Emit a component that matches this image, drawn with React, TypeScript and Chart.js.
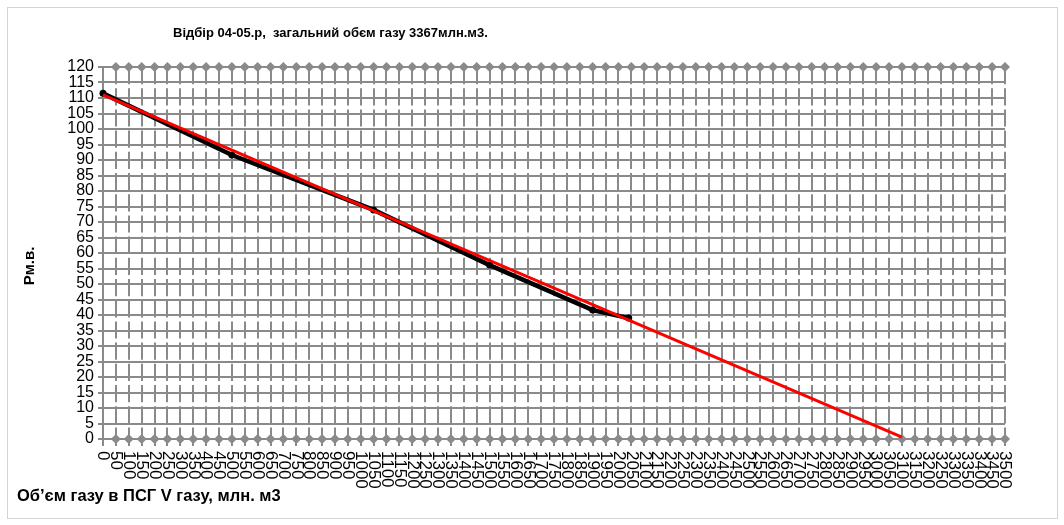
import { useEffect, useRef } from 'react';
import { Chart, registerables } from 'chart.js';

Chart.register(...registerables);

const chartTitle = 'Відбір 04-05.р,  загальний обєм газу 3367млн.м3.';
const xAxisTitle = 'Об’єм газу в ПСГ V газу, млн. м3';
const yAxisTitle = 'Рм.в.';

// Volume axis labels, млн. м3
const volumeTicks = [
  0, 50, 100, 150, 200, 250, 300, 350, 400, 450, 500, 550, 600, 650, 700, 750,
  800, 850, 900, 950, 1000, 1050, 1100, 1150, 1200, 1250, 1300, 1350, 1400,
  1450, 1500, 1550, 1600, 1650, 1700, 1750, 1800, 1850, 1900, 1950, 2000, 2050,
  2100, 2150, 2200, 2250, 2300, 2350, 2400, 2450, 2500, 2550, 2600, 2650, 2700,
  2750, 2800, 2850, 2900, 2950, 3000, 3050, 3100, 3150, 3200, 3250, 3300, 3350,
  3400, 3450, 3500,
];

// Measured withdrawal curve
const measuredVolumes = [0, 500, 1050, 1500, 1900, 2040];
const measuredPressures = [111.5, 91.6, 73.9, 56.1, 41.6, 39.0];

// Linear trend extended to depletion
const trendVolumes = [0, 3100];
const trendPressures = [111.0, 0.6];

// Gray marker rows along the top and bottom of the grid
const guideVolumes = volumeTicks.slice(1);
const upperGuideLevel = 120;
const lowerGuideLevel = 0;

const GRID = '#8a8a8a';
const FONT = '"Liberation Sans", Arial, sans-serif';

const textPlugin = {
  id: 'chartTexts',
  afterDraw(chart: any) {
    const { ctx } = chart;
    const xs = chart.scales.x;
    ctx.save();
    ctx.fillStyle = '#000';

    // vertical volume labels reading downwards
    ctx.font = `17px ${FONT}`;
    ctx.textAlign = 'left';
    ctx.textBaseline = 'middle';
    for (const v of volumeTicks) {
      const px = xs.getPixelForValue(v);
      ctx.save();
      ctx.translate(px, xs.top + 12);
      ctx.rotate(Math.PI / 2);
      ctx.fillText(String(v), 0, 0);
      ctx.restore();
    }

    // chart heading
    ctx.font = `bold 13px ${FONT}`;
    ctx.textBaseline = 'alphabetic';
    ctx.fillText(chartTitle, 165, 29);

    // x axis caption
    ctx.font = `bold 16.5px ${FONT}`;
    ctx.textBaseline = 'middle';
    ctx.fillText(xAxisTitle, 9, 488);

    // y axis caption
    ctx.save();
    ctx.translate(22, 258);
    ctx.rotate(-Math.PI / 2);
    ctx.textAlign = 'center';
    ctx.font = `bold 15px ${FONT}`;
    ctx.fillText(yAxisTitle, 0, 0);
    ctx.restore();

    ctx.restore();
  },
};

export default function App() {
  const canvasRef = useRef<HTMLCanvasElement | null>(null);

  useEffect(() => {
    const canvas = canvasRef.current;
    if (!canvas) return;

    const guideStyle = {
      showLine: true,
      clip: false,
      borderColor: GRID,
      borderWidth: 2,
      backgroundColor: GRID,
      pointBackgroundColor: GRID,
      pointBorderColor: GRID,
      pointStyle: 'rectRot',
      pointRadius: 5,
      pointBorderWidth: 0,
    };

    const chart = new Chart(canvas, {
      type: 'scatter',
      data: {
        datasets: [
          {
            label: 'trend',
            data: trendVolumes.map((x, i) => ({ x, y: trendPressures[i] })),
            showLine: true,
            clip: false,
            borderColor: '#ff0000',
            borderWidth: 3,
            pointRadius: 0,
          },
          {
            label: 'measured',
            data: measuredVolumes.map((x, i) => ({ x, y: measuredPressures[i] })),
            showLine: true,
            clip: false,
            borderColor: '#000000',
            borderWidth: 4.5,
            backgroundColor: '#000000',
            pointBackgroundColor: '#000000',
            pointBorderColor: '#000000',
            pointRadius: 3.5,
            pointBorderWidth: 0,
          },
          {
            label: 'upper',
            data: guideVolumes.map((x) => ({ x, y: upperGuideLevel })),
            ...guideStyle,
          },
          {
            label: 'lower',
            data: guideVolumes.map((x) => ({ x, y: lowerGuideLevel })),
            ...guideStyle,
          },
        ] as any,
      },
      options: {
        animation: false,
        responsive: false,
        events: [],
        layout: { padding: { top: 59, right: 52, left: 0, bottom: 0 } },
        plugins: {
          legend: { display: false },
          title: { display: false },
          tooltip: { enabled: false },
        },
        scales: {
          x: {
            type: 'linear',
            min: 0,
            max: 3500,
            afterFit: (scale: any) => {
              scale.height = 79;
            },
            ticks: {
              stepSize: 50,
              autoSkip: false,
              maxTicksLimit: 200,
              display: false,
            },
            grid: {
              color: GRID,
              lineWidth: 2,
              tickLength: 7,
              drawTicks: true,
            },
            border: {
              color: GRID,
              width: 2,
              dash: [17.2, 4],
            },
          },
          y: {
            type: 'linear',
            min: 0,
            max: 120,
            afterFit: (scale: any) => {
              scale.width = 95;
            },
            ticks: {
              stepSize: 5,
              autoSkip: false,
              maxTicksLimit: 200,
              color: '#000',
              padding: 4,
              font: { family: FONT, size: 16 },
            },
            grid: {
              color: GRID,
              lineWidth: 2,
              tickLength: 5,
            },
            border: {
              color: GRID,
              width: 2,
            },
          },
        },
      },
      plugins: [textPlugin],
    });

    return () => chart.destroy();
  }, []);

  return (
    <div
      style={{
        position: 'absolute',
        left: 7,
        top: 7,
        width: 1051,
        height: 512,
        border: '1px solid #d4d4d4',
        boxSizing: 'border-box',
        background: '#fff',
      }}
    >
      <canvas ref={canvasRef} width={1049} height={510} style={{ display: 'block' }} />
    </div>
  );
}
